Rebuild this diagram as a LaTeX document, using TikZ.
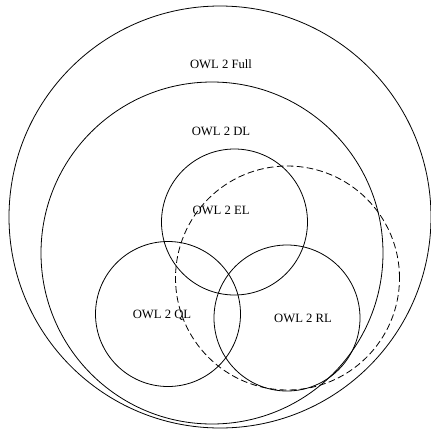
\documentclass[tikz,border=0pt]{standalone}
\usepackage{fontspec}
\setmainfont{Liberation Serif}
\tikzset{
    ring/.style     = {draw, circle, inner sep=0pt, outer sep=0pt, line width=0.6pt},
    dashring/.style = {ring, dash pattern=on 5pt off 2.5pt},
    setlabel/.style = {font=\fontsize{9.5}{11}\selectfont, inner sep=1pt}
}
\begin{document}
\begin{tikzpicture}[x=0.75pt, y=-0.75pt]
    \useasboundingbox (0,0) rectangle (430,430);
    % profile sets
    \node[ring, minimum size=316.5pt] (full) at (220,217) {};
    \node[ring, minimum size=256.5pt] (dl) at (212,253) {};
    \node[ring, minimum size=109.5pt] (el) at (234.5,222) {};
    \node[ring, minimum size=108.75pt] (ql) at (168,314) {};
    \node[ring, minimum size=109.5pt] (rl) at (287,318) {};
    \node[dashring, minimum size=168pt] (rdf) at (287.5,278) {};

    \node[setlabel] (fulltxt) at (221,64) {OWL 2 Full};
    \node[setlabel] (dltxt) at (221,131) {OWL 2 DL};
    \node[setlabel] (eltxt) at (221,210) {OWL 2 EL};
    \node[setlabel] (qltxt) at (162,315) {OWL 2 QL};
    \node[setlabel] (rltxt) at (303,318) {OWL 2 RL};
\end{tikzpicture}
\end{document}
